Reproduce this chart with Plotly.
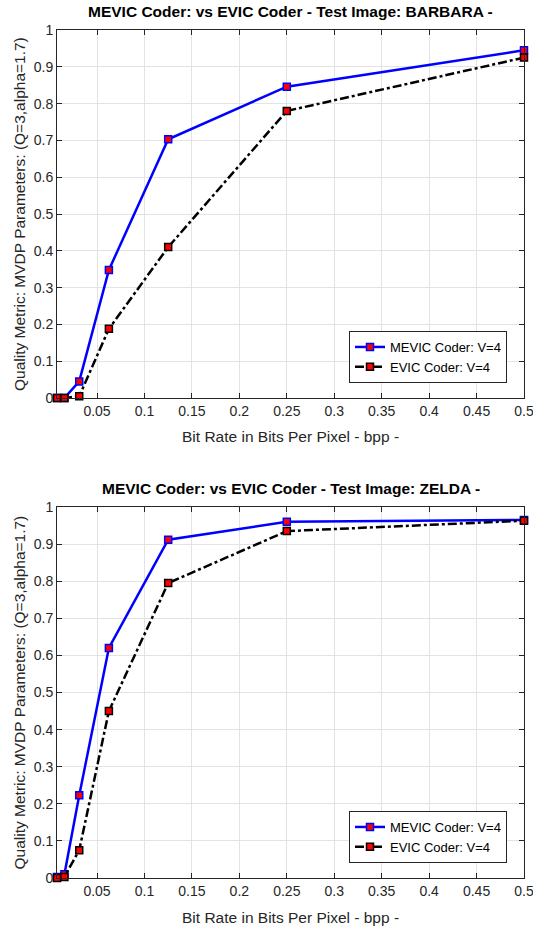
import plotly.graph_objects as go

bpp = [1/128, 1/64, 1/32, 1/16, 1/8, 1/4, 1/2]
barbara_mevic = [0.0, 0.0, 0.045, 0.348, 0.703, 0.846, 0.945]
barbara_evic = [0.0, 0.0, 0.005, 0.188, 0.41, 0.78, 0.925]
zelda_mevic = [0.003, 0.01, 0.223, 0.62, 0.912, 0.96, 0.965]
zelda_evic = [0.0, 0.003, 0.075, 0.45, 0.795, 0.935, 0.963]
xticks = [0.05, 0.1, 0.15, 0.2, 0.25, 0.3, 0.35, 0.4, 0.45, 0.5]
xticklabels = ["0.05", "0.1", "0.15", "0.2", "0.25", "0.3", "0.35", "0.4", "0.45", "0.5"]
yticks = [0, 0.1, 0.2, 0.3, 0.4, 0.5, 0.6, 0.7, 0.8, 0.9, 1]
yticklabels = ["0", "0.1", "0.2", "0.3", "0.4", "0.5", "0.6", "0.7", "0.8", "0.9", "1"]
titles = ["MEVIC Coder: vs EVIC Coder - Test Image: BARBARA -",
          "MEVIC Coder: vs EVIC Coder - Test Image: ZELDA -"]
xlabel = "Bit Rate in Bits Per Pixel - bpp -"
ylabel = "Quality Metric: MVDP Parameters: (Q=3,alpha=1.7)"
names = ["MEVIC Coder: V=4", "EVIC Coder: V=4"]

W, H = 533, 926
FONT = "Liberation Sans, Arial, sans-serif"
fig = go.Figure()

panels = [
    dict(mevic=barbara_mevic, evic=barbara_evic, top=30, bot=398, xa="x", ya="y", leg="legend"),
    dict(mevic=zelda_mevic, evic=zelda_evic, top=507, bot=878, xa="x2", ya="y2", leg="legend2"),
]
x0p, x1p = 57, 524

for i, p in enumerate(panels):
    fig.add_trace(go.Scatter(x=bpp, y=p["mevic"], name=names[0], mode="lines+markers",
                             line=dict(color="#0000ff", width=2.5),
                             marker=dict(symbol="square", size=7, color="#ff0000",
                                         line=dict(color="#0000ff", width=1.5)),
                             cliponaxis=False,
                             xaxis=p["xa"], yaxis=p["ya"], legend=p["leg"]))
    fig.add_trace(go.Scatter(x=bpp, y=p["evic"], name=names[1], mode="lines+markers",
                             line=dict(color="#000000", width=2.5, dash="dashdot"),
                             marker=dict(symbol="square", size=7, color="#ff0000",
                                         line=dict(color="#000000", width=1.5)),
                             cliponaxis=False,
                             xaxis=p["xa"], yaxis=p["ya"], legend=p["leg"]))

axis_common = dict(showgrid=True, gridcolor="#e3e3e3", gridwidth=1, zeroline=False,
                   showline=True, linecolor="#262626", linewidth=1, mirror="allticks",
                   ticks="inside", ticklen=5, tickcolor="#262626",
                   ticklabeloverflow="allow", automargin=False,
                   tickfont=dict(family=FONT, size=14, color="#262626"))

layout = dict(width=W, height=H, margin=dict(l=0, r=0, t=0, b=0, autoexpand=False),
              paper_bgcolor="white", plot_bgcolor="white", showlegend=True)

for i, p in enumerate(panels):
    sfx = "" if i == 0 else str(i + 1)
    yd = [1 - p["bot"] / H, 1 - p["top"] / H]
    layout["xaxis" + sfx] = dict(axis_common, domain=[x0p / W, x1p / W], range=[1/128, 0.5],
                                 tickvals=xticks, ticktext=xticklabels, anchor="y" + sfx)
    layout["yaxis" + sfx] = dict(axis_common, domain=yd, range=[0, 1],
                                 tickvals=yticks, ticktext=yticklabels, anchor="x" + sfx)
    leg = dict(x=507 / W, xanchor="right", y=1 - (p["bot"] - 15) / H, yanchor="bottom",
               bgcolor="white", bordercolor="#262626", borderwidth=1,
               font=dict(family=FONT, size=13, color="#000000"),
               tracegroupgap=0, itemwidth=30)
    layout["legend" + sfx] = leg

fig.update_layout(**layout)

for i, p in enumerate(panels):
    fig.add_annotation(text="<b>" + titles[i] + "</b>", xref="paper", yref="paper",
                       x=(x0p + x1p) / 2 / W, y=1 - (p["top"] - 8) / H,
                       xanchor="center", yanchor="bottom", showarrow=False,
                       font=dict(family=FONT, size=15.5, color="#000000"))
    fig.add_annotation(text=xlabel, xref="paper", yref="paper",
                       x=(x0p + x1p) / 2 / W, y=1 - (p["bot"] + 39) / H,
                       xanchor="center", yanchor="middle", showarrow=False,
                       font=dict(family=FONT, size=15.5, color="#262626"))
    fig.add_annotation(text=ylabel, xref="paper", yref="paper", textangle=-90,
                       x=19 / W, y=1 - (p["top"] + p["bot"]) / 2 / H,
                       xanchor="center", yanchor="middle", showarrow=False,
                       font=dict(family=FONT, size=15.5, color="#262626"))

fig.write_html("out.html", config={"displayModeBar": False},
               post_script="document.body.style.margin='0';document.body.style.overflow='hidden';")
